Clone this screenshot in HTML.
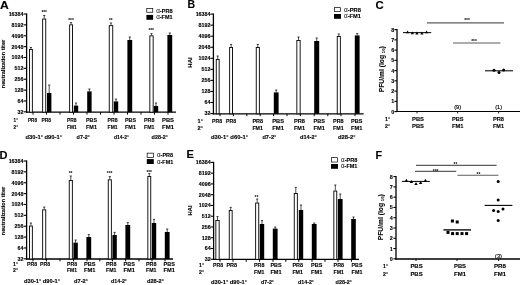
<!DOCTYPE html>
<html lang="en">
<head>
<meta charset="utf-8">
<title>Figure</title>
<style>
html,body{margin:0;padding:0;background:#fff;}
body{width:520px;height:285px;overflow:hidden;}
svg{display:block;font-family:"Liberation Sans", sans-serif;}
</style>
</head>
<body>
<svg width="520" height="285" viewBox="0 0 520 285">
<defs><filter id="soft" x="0" y="0" width="520" height="285" filterUnits="userSpaceOnUse"><feGaussianBlur stdDeviation="0.45"/></filter></defs>
<rect width="520" height="285" fill="#fff"/>
<g filter="url(#soft)">
<rect width="520" height="285" fill="#fff"/>
<text x="0.00" y="8.80" font-size="10.0" text-anchor="start" font-weight="bold" fill="#000" stroke="#000" stroke-width="0.12" textLength="8.80" lengthAdjust="spacingAndGlyphs">A</text>
<line x1="26.60" y1="13.40" x2="26.60" y2="112.80" stroke="#000" stroke-width="1.3"/>
<line x1="23.60" y1="14.00" x2="26.60" y2="14.00" stroke="#000" stroke-width="1.1"/>
<text x="23.40" y="15.91" font-size="5.3" text-anchor="end" font-weight="bold" fill="#000" stroke="#000" stroke-width="0.12">16384</text>
<line x1="23.60" y1="24.87" x2="26.60" y2="24.87" stroke="#000" stroke-width="1.1"/>
<text x="23.40" y="26.78" font-size="5.3" text-anchor="end" font-weight="bold" fill="#000" stroke="#000" stroke-width="0.12">8192</text>
<line x1="23.60" y1="35.74" x2="26.60" y2="35.74" stroke="#000" stroke-width="1.1"/>
<text x="23.40" y="37.65" font-size="5.3" text-anchor="end" font-weight="bold" fill="#000" stroke="#000" stroke-width="0.12">4096</text>
<line x1="23.60" y1="46.61" x2="26.60" y2="46.61" stroke="#000" stroke-width="1.1"/>
<text x="23.40" y="48.52" font-size="5.3" text-anchor="end" font-weight="bold" fill="#000" stroke="#000" stroke-width="0.12">2048</text>
<line x1="23.60" y1="57.48" x2="26.60" y2="57.48" stroke="#000" stroke-width="1.1"/>
<text x="23.40" y="59.39" font-size="5.3" text-anchor="end" font-weight="bold" fill="#000" stroke="#000" stroke-width="0.12">1024</text>
<line x1="23.60" y1="68.35" x2="26.60" y2="68.35" stroke="#000" stroke-width="1.1"/>
<text x="23.40" y="70.26" font-size="5.3" text-anchor="end" font-weight="bold" fill="#000" stroke="#000" stroke-width="0.12">512</text>
<line x1="23.60" y1="79.22" x2="26.60" y2="79.22" stroke="#000" stroke-width="1.1"/>
<text x="23.40" y="81.13" font-size="5.3" text-anchor="end" font-weight="bold" fill="#000" stroke="#000" stroke-width="0.12">256</text>
<line x1="23.60" y1="90.09" x2="26.60" y2="90.09" stroke="#000" stroke-width="1.1"/>
<text x="23.40" y="92.00" font-size="5.3" text-anchor="end" font-weight="bold" fill="#000" stroke="#000" stroke-width="0.12">128</text>
<line x1="23.60" y1="100.96" x2="26.60" y2="100.96" stroke="#000" stroke-width="1.1"/>
<text x="23.40" y="102.87" font-size="5.3" text-anchor="end" font-weight="bold" fill="#000" stroke="#000" stroke-width="0.12">64</text>
<line x1="23.60" y1="111.83" x2="26.60" y2="111.83" stroke="#000" stroke-width="1.1"/>
<text x="23.40" y="113.74" font-size="5.3" text-anchor="end" font-weight="bold" fill="#000" stroke="#000" stroke-width="0.12">32</text>
<line x1="26.00" y1="112.20" x2="176.00" y2="112.20" stroke="#000" stroke-width="1.3"/>
<line x1="33.00" y1="112.20" x2="33.00" y2="114.60" stroke="#000" stroke-width="1.0"/>
<line x1="46.50" y1="112.20" x2="46.50" y2="114.60" stroke="#000" stroke-width="1.0"/>
<line x1="60.00" y1="112.20" x2="60.00" y2="114.60" stroke="#000" stroke-width="1.0"/>
<line x1="73.50" y1="112.20" x2="73.50" y2="114.60" stroke="#000" stroke-width="1.0"/>
<line x1="87.00" y1="112.20" x2="87.00" y2="114.60" stroke="#000" stroke-width="1.0"/>
<line x1="100.50" y1="112.20" x2="100.50" y2="114.60" stroke="#000" stroke-width="1.0"/>
<line x1="114.00" y1="112.20" x2="114.00" y2="114.60" stroke="#000" stroke-width="1.0"/>
<line x1="127.50" y1="112.20" x2="127.50" y2="114.60" stroke="#000" stroke-width="1.0"/>
<line x1="141.00" y1="112.20" x2="141.00" y2="114.60" stroke="#000" stroke-width="1.0"/>
<line x1="154.50" y1="112.20" x2="154.50" y2="114.60" stroke="#000" stroke-width="1.0"/>
<line x1="168.00" y1="112.20" x2="168.00" y2="114.60" stroke="#000" stroke-width="1.0"/>
<text transform="translate(4.92 64.00) rotate(-90)" font-size="5.6" text-anchor="middle" font-weight="bold" stroke="#000" stroke-width="0.12" textLength="48.50" lengthAdjust="spacingAndGlyphs">neutralization titer</text>
<line x1="30.90" y1="47.50" x2="30.90" y2="49.00" stroke="#000" stroke-width="0.7"/>
<line x1="29.80" y1="47.50" x2="32.00" y2="47.50" stroke="#000" stroke-width="0.7"/>
<rect x="29.45" y="49.45" width="2.90" height="62.75" fill="#fff" stroke="#000" stroke-width="0.9"/>
<line x1="44.20" y1="15.50" x2="44.20" y2="18.60" stroke="#000" stroke-width="0.7"/>
<line x1="43.10" y1="15.50" x2="45.30" y2="15.50" stroke="#000" stroke-width="0.7"/>
<rect x="42.65" y="19.05" width="3.10" height="93.15" fill="#fff" stroke="#000" stroke-width="0.9"/>
<text x="44.20" y="14.23" font-size="4.8" text-anchor="middle" font-weight="bold" fill="#000" stroke="#000" stroke-width="0">***</text>
<line x1="49.20" y1="85.00" x2="49.20" y2="93.00" stroke="#000" stroke-width="0.7"/>
<line x1="48.10" y1="85.00" x2="50.30" y2="85.00" stroke="#000" stroke-width="0.7"/>
<rect x="47.00" y="93.00" width="4.40" height="19.20" fill="#000"/>
<line x1="71.10" y1="22.60" x2="71.10" y2="24.40" stroke="#000" stroke-width="0.7"/>
<line x1="70.00" y1="22.60" x2="72.20" y2="22.60" stroke="#000" stroke-width="0.7"/>
<rect x="69.65" y="24.85" width="2.90" height="87.35" fill="#fff" stroke="#000" stroke-width="0.9"/>
<text x="71.00" y="22.43" font-size="4.8" text-anchor="middle" font-weight="bold" fill="#000" stroke="#000" stroke-width="0">***</text>
<line x1="76.00" y1="103.00" x2="76.00" y2="105.60" stroke="#000" stroke-width="0.7"/>
<line x1="74.90" y1="103.00" x2="77.10" y2="103.00" stroke="#000" stroke-width="0.7"/>
<rect x="73.80" y="105.60" width="4.40" height="6.60" fill="#000"/>
<line x1="89.40" y1="89.00" x2="89.40" y2="91.40" stroke="#000" stroke-width="0.7"/>
<line x1="88.30" y1="89.00" x2="90.50" y2="89.00" stroke="#000" stroke-width="0.7"/>
<rect x="87.20" y="91.40" width="4.40" height="20.80" fill="#000"/>
<line x1="111.00" y1="23.00" x2="111.00" y2="25.20" stroke="#000" stroke-width="0.7"/>
<line x1="109.90" y1="23.00" x2="112.10" y2="23.00" stroke="#000" stroke-width="0.7"/>
<rect x="109.25" y="25.65" width="3.50" height="86.55" fill="#fff" stroke="#000" stroke-width="0.9"/>
<text x="110.80" y="22.23" font-size="4.8" text-anchor="middle" font-weight="bold" fill="#000" stroke="#000" stroke-width="0">**</text>
<line x1="116.00" y1="99.00" x2="116.00" y2="101.40" stroke="#000" stroke-width="0.7"/>
<line x1="114.90" y1="99.00" x2="117.10" y2="99.00" stroke="#000" stroke-width="0.7"/>
<rect x="113.80" y="101.40" width="4.40" height="10.80" fill="#000"/>
<line x1="129.80" y1="37.00" x2="129.80" y2="40.00" stroke="#000" stroke-width="0.7"/>
<line x1="128.70" y1="37.00" x2="130.90" y2="37.00" stroke="#000" stroke-width="0.7"/>
<rect x="127.40" y="40.00" width="4.80" height="72.20" fill="#000"/>
<line x1="151.50" y1="33.60" x2="151.50" y2="35.40" stroke="#000" stroke-width="0.7"/>
<line x1="150.40" y1="33.60" x2="152.60" y2="33.60" stroke="#000" stroke-width="0.7"/>
<rect x="149.85" y="35.85" width="3.30" height="76.35" fill="#fff" stroke="#000" stroke-width="0.9"/>
<text x="151.20" y="31.63" font-size="4.8" text-anchor="middle" font-weight="bold" fill="#000" stroke="#000" stroke-width="0">***</text>
<line x1="156.00" y1="103.00" x2="156.00" y2="106.00" stroke="#000" stroke-width="0.7"/>
<line x1="154.90" y1="103.00" x2="157.10" y2="103.00" stroke="#000" stroke-width="0.7"/>
<rect x="153.80" y="106.00" width="4.40" height="6.20" fill="#000"/>
<line x1="169.80" y1="33.00" x2="169.80" y2="35.00" stroke="#000" stroke-width="0.7"/>
<line x1="168.70" y1="33.00" x2="170.90" y2="33.00" stroke="#000" stroke-width="0.7"/>
<rect x="167.40" y="35.00" width="4.80" height="77.20" fill="#000"/>
<rect x="146.75" y="8.55" width="6.00" height="3.70" fill="#fff" stroke="#000" stroke-width="0.7"/>
<rect x="146.40" y="14.90" width="6.70" height="4.90" fill="#000"/>
<text x="156.20" y="12.55" font-size="5.7" text-anchor="start" font-weight="bold" fill="#000" stroke="#000" stroke-width="0.12" textLength="16.40" lengthAdjust="spacingAndGlyphs"><tspan font-weight="normal" stroke-width="0" font-size="6.4">α</tspan>-PR8</text>
<text x="156.20" y="19.05" font-size="5.7" text-anchor="start" font-weight="bold" fill="#000" stroke="#000" stroke-width="0.12" textLength="16.40" lengthAdjust="spacingAndGlyphs"><tspan font-weight="normal" stroke-width="0" font-size="6.4">α</tspan>-FM1</text>
<text x="13.60" y="121.69" font-size="5.8" text-anchor="start" font-weight="bold" fill="#000" stroke="#000" stroke-width="0.12" textLength="4.40" lengthAdjust="spacingAndGlyphs">1°</text>
<text x="13.60" y="128.89" font-size="5.8" text-anchor="start" font-weight="bold" fill="#000" stroke="#000" stroke-width="0.12" textLength="4.40" lengthAdjust="spacingAndGlyphs">2°</text>
<text x="28.00" y="121.69" font-size="5.8" text-anchor="start" font-weight="bold" fill="#000" stroke="#000" stroke-width="0.12" textLength="9.00" lengthAdjust="spacingAndGlyphs">PR8</text>
<text x="41.40" y="121.69" font-size="5.8" text-anchor="start" font-weight="bold" fill="#000" stroke="#000" stroke-width="0.12" textLength="9.60" lengthAdjust="spacingAndGlyphs">PR8</text>
<text x="67.00" y="121.69" font-size="5.8" text-anchor="start" font-weight="bold" fill="#000" stroke="#000" stroke-width="0.12" textLength="9.60" lengthAdjust="spacingAndGlyphs">PR8</text>
<text x="67.00" y="128.89" font-size="5.8" text-anchor="start" font-weight="bold" fill="#000" stroke="#000" stroke-width="0.12" textLength="9.60" lengthAdjust="spacingAndGlyphs">FM1</text>
<text x="86.00" y="121.69" font-size="5.8" text-anchor="start" font-weight="bold" fill="#000" stroke="#000" stroke-width="0.12" textLength="11.00" lengthAdjust="spacingAndGlyphs">PBS</text>
<text x="86.00" y="128.89" font-size="5.8" text-anchor="start" font-weight="bold" fill="#000" stroke="#000" stroke-width="0.12" textLength="11.00" lengthAdjust="spacingAndGlyphs">FM1</text>
<text x="107.60" y="121.69" font-size="5.8" text-anchor="start" font-weight="bold" fill="#000" stroke="#000" stroke-width="0.12" textLength="10.00" lengthAdjust="spacingAndGlyphs">PR8</text>
<text x="107.60" y="128.89" font-size="5.8" text-anchor="start" font-weight="bold" fill="#000" stroke="#000" stroke-width="0.12" textLength="10.00" lengthAdjust="spacingAndGlyphs">FM1</text>
<text x="125.00" y="121.69" font-size="5.8" text-anchor="start" font-weight="bold" fill="#000" stroke="#000" stroke-width="0.12" textLength="11.00" lengthAdjust="spacingAndGlyphs">PBS</text>
<text x="125.00" y="128.89" font-size="5.8" text-anchor="start" font-weight="bold" fill="#000" stroke="#000" stroke-width="0.12" textLength="11.00" lengthAdjust="spacingAndGlyphs">FM1</text>
<text x="144.00" y="121.69" font-size="5.8" text-anchor="start" font-weight="bold" fill="#000" stroke="#000" stroke-width="0.12" textLength="10.40" lengthAdjust="spacingAndGlyphs">PR8</text>
<text x="144.00" y="128.89" font-size="5.8" text-anchor="start" font-weight="bold" fill="#000" stroke="#000" stroke-width="0.12" textLength="10.40" lengthAdjust="spacingAndGlyphs">FM1</text>
<text x="162.00" y="121.69" font-size="5.8" text-anchor="start" font-weight="bold" fill="#000" stroke="#000" stroke-width="0.12" textLength="12.00" lengthAdjust="spacingAndGlyphs">PBS</text>
<text x="162.00" y="128.89" font-size="5.8" text-anchor="start" font-weight="bold" fill="#000" stroke="#000" stroke-width="0.12" textLength="12.00" lengthAdjust="spacingAndGlyphs">FM1</text>
<text x="25.60" y="139.09" font-size="5.8" text-anchor="start" font-weight="bold" fill="#000" stroke="#000" stroke-width="0.12" textLength="36.40" lengthAdjust="spacingAndGlyphs">d30-1° d90-1°</text>
<text x="76.60" y="139.09" font-size="5.8" text-anchor="start" font-weight="bold" fill="#000" stroke="#000" stroke-width="0.12" textLength="13.40" lengthAdjust="spacingAndGlyphs">d7-2°</text>
<text x="114.00" y="139.09" font-size="5.8" text-anchor="start" font-weight="bold" fill="#000" stroke="#000" stroke-width="0.12" textLength="15.00" lengthAdjust="spacingAndGlyphs">d14-2°</text>
<text x="151.60" y="139.09" font-size="5.8" text-anchor="start" font-weight="bold" fill="#000" stroke="#000" stroke-width="0.12" textLength="16.40" lengthAdjust="spacingAndGlyphs">d28-2°</text>
<text x="187.60" y="8.30" font-size="10.0" text-anchor="start" font-weight="bold" fill="#000" stroke="#000" stroke-width="0.12" textLength="7.60" lengthAdjust="spacingAndGlyphs">B</text>
<line x1="213.40" y1="13.50" x2="213.40" y2="114.40" stroke="#000" stroke-width="1.3"/>
<line x1="210.40" y1="14.10" x2="213.40" y2="14.10" stroke="#000" stroke-width="1.1"/>
<text x="210.40" y="16.01" font-size="5.3" text-anchor="end" font-weight="bold" fill="#000" stroke="#000" stroke-width="0.12">16384</text>
<line x1="210.40" y1="25.15" x2="213.40" y2="25.15" stroke="#000" stroke-width="1.1"/>
<text x="210.40" y="27.06" font-size="5.3" text-anchor="end" font-weight="bold" fill="#000" stroke="#000" stroke-width="0.12">8192</text>
<line x1="210.40" y1="36.20" x2="213.40" y2="36.20" stroke="#000" stroke-width="1.1"/>
<text x="210.40" y="38.11" font-size="5.3" text-anchor="end" font-weight="bold" fill="#000" stroke="#000" stroke-width="0.12">4096</text>
<line x1="210.40" y1="47.25" x2="213.40" y2="47.25" stroke="#000" stroke-width="1.1"/>
<text x="210.40" y="49.16" font-size="5.3" text-anchor="end" font-weight="bold" fill="#000" stroke="#000" stroke-width="0.12">2048</text>
<line x1="210.40" y1="58.30" x2="213.40" y2="58.30" stroke="#000" stroke-width="1.1"/>
<text x="210.40" y="60.21" font-size="5.3" text-anchor="end" font-weight="bold" fill="#000" stroke="#000" stroke-width="0.12">1024</text>
<line x1="210.40" y1="69.35" x2="213.40" y2="69.35" stroke="#000" stroke-width="1.1"/>
<text x="210.40" y="71.26" font-size="5.3" text-anchor="end" font-weight="bold" fill="#000" stroke="#000" stroke-width="0.12">512</text>
<line x1="210.40" y1="80.40" x2="213.40" y2="80.40" stroke="#000" stroke-width="1.1"/>
<text x="210.40" y="82.31" font-size="5.3" text-anchor="end" font-weight="bold" fill="#000" stroke="#000" stroke-width="0.12">256</text>
<line x1="210.40" y1="91.45" x2="213.40" y2="91.45" stroke="#000" stroke-width="1.1"/>
<text x="210.40" y="93.36" font-size="5.3" text-anchor="end" font-weight="bold" fill="#000" stroke="#000" stroke-width="0.12">128</text>
<line x1="210.40" y1="102.50" x2="213.40" y2="102.50" stroke="#000" stroke-width="1.1"/>
<text x="210.40" y="104.41" font-size="5.3" text-anchor="end" font-weight="bold" fill="#000" stroke="#000" stroke-width="0.12">64</text>
<line x1="210.40" y1="113.55" x2="213.40" y2="113.55" stroke="#000" stroke-width="1.1"/>
<text x="210.40" y="115.46" font-size="5.3" text-anchor="end" font-weight="bold" fill="#000" stroke="#000" stroke-width="0.12">32</text>
<line x1="212.80" y1="113.80" x2="363.60" y2="113.80" stroke="#000" stroke-width="1.3"/>
<line x1="220.00" y1="113.80" x2="220.00" y2="116.20" stroke="#000" stroke-width="1.0"/>
<line x1="233.40" y1="113.80" x2="233.40" y2="116.20" stroke="#000" stroke-width="1.0"/>
<line x1="246.80" y1="113.80" x2="246.80" y2="116.20" stroke="#000" stroke-width="1.0"/>
<line x1="260.20" y1="113.80" x2="260.20" y2="116.20" stroke="#000" stroke-width="1.0"/>
<line x1="273.60" y1="113.80" x2="273.60" y2="116.20" stroke="#000" stroke-width="1.0"/>
<line x1="287.00" y1="113.80" x2="287.00" y2="116.20" stroke="#000" stroke-width="1.0"/>
<line x1="300.40" y1="113.80" x2="300.40" y2="116.20" stroke="#000" stroke-width="1.0"/>
<line x1="314.20" y1="113.80" x2="314.20" y2="116.20" stroke="#000" stroke-width="1.0"/>
<line x1="327.80" y1="113.80" x2="327.80" y2="116.20" stroke="#000" stroke-width="1.0"/>
<line x1="341.00" y1="113.80" x2="341.00" y2="116.20" stroke="#000" stroke-width="1.0"/>
<line x1="355.00" y1="113.80" x2="355.00" y2="116.20" stroke="#000" stroke-width="1.0"/>
<text transform="translate(192.42 62.50) rotate(-90)" font-size="5.6" text-anchor="middle" font-weight="bold" stroke="#000" stroke-width="0.12" textLength="10.50" lengthAdjust="spacingAndGlyphs">HAI</text>
<line x1="217.70" y1="56.00" x2="217.70" y2="59.00" stroke="#000" stroke-width="0.7"/>
<line x1="216.60" y1="56.00" x2="218.80" y2="56.00" stroke="#000" stroke-width="0.7"/>
<rect x="216.25" y="59.45" width="2.90" height="54.35" fill="#fff" stroke="#000" stroke-width="0.9"/>
<line x1="231.10" y1="44.40" x2="231.10" y2="47.00" stroke="#000" stroke-width="0.7"/>
<line x1="230.00" y1="44.40" x2="232.20" y2="44.40" stroke="#000" stroke-width="0.7"/>
<rect x="229.65" y="47.45" width="2.90" height="66.35" fill="#fff" stroke="#000" stroke-width="0.9"/>
<line x1="257.80" y1="44.40" x2="257.80" y2="47.00" stroke="#000" stroke-width="0.7"/>
<line x1="256.70" y1="44.40" x2="258.90" y2="44.40" stroke="#000" stroke-width="0.7"/>
<rect x="256.25" y="47.45" width="3.10" height="66.35" fill="#fff" stroke="#000" stroke-width="0.9"/>
<line x1="276.20" y1="90.00" x2="276.20" y2="92.40" stroke="#000" stroke-width="0.7"/>
<line x1="275.10" y1="90.00" x2="277.30" y2="90.00" stroke="#000" stroke-width="0.7"/>
<rect x="273.80" y="92.40" width="4.80" height="21.40" fill="#000"/>
<line x1="298.50" y1="37.00" x2="298.50" y2="40.00" stroke="#000" stroke-width="0.7"/>
<line x1="297.40" y1="37.00" x2="299.60" y2="37.00" stroke="#000" stroke-width="0.7"/>
<rect x="296.85" y="40.45" width="3.30" height="73.35" fill="#fff" stroke="#000" stroke-width="0.9"/>
<line x1="316.70" y1="38.00" x2="316.70" y2="41.00" stroke="#000" stroke-width="0.7"/>
<line x1="315.60" y1="38.00" x2="317.80" y2="38.00" stroke="#000" stroke-width="0.7"/>
<rect x="314.20" y="41.00" width="5.00" height="72.80" fill="#000"/>
<line x1="338.80" y1="34.00" x2="338.80" y2="36.00" stroke="#000" stroke-width="0.7"/>
<line x1="337.70" y1="34.00" x2="339.90" y2="34.00" stroke="#000" stroke-width="0.7"/>
<rect x="337.25" y="36.45" width="3.10" height="77.35" fill="#fff" stroke="#000" stroke-width="0.9"/>
<line x1="357.20" y1="33.60" x2="357.20" y2="35.40" stroke="#000" stroke-width="0.7"/>
<line x1="356.10" y1="33.60" x2="358.30" y2="33.60" stroke="#000" stroke-width="0.7"/>
<rect x="354.80" y="35.40" width="4.80" height="78.40" fill="#000"/>
<rect x="334.35" y="7.65" width="6.30" height="3.90" fill="#fff" stroke="#000" stroke-width="0.7"/>
<rect x="334.00" y="14.00" width="7.00" height="4.80" fill="#000"/>
<text x="344.00" y="11.65" font-size="5.7" text-anchor="start" font-weight="bold" fill="#000" stroke="#000" stroke-width="0.12" textLength="17.00" lengthAdjust="spacingAndGlyphs"><tspan font-weight="normal" stroke-width="0" font-size="6.4">α</tspan>-PR8</text>
<text x="344.00" y="18.05" font-size="5.7" text-anchor="start" font-weight="bold" fill="#000" stroke="#000" stroke-width="0.12" textLength="17.00" lengthAdjust="spacingAndGlyphs"><tspan font-weight="normal" stroke-width="0" font-size="6.4">α</tspan>-FM1</text>
<text x="197.60" y="122.59" font-size="5.8" text-anchor="start" font-weight="bold" fill="#000" stroke="#000" stroke-width="0.12" textLength="5.40" lengthAdjust="spacingAndGlyphs">1°</text>
<text x="197.60" y="129.89" font-size="5.8" text-anchor="start" font-weight="bold" fill="#000" stroke="#000" stroke-width="0.12" textLength="5.40" lengthAdjust="spacingAndGlyphs">2°</text>
<text x="212.00" y="122.59" font-size="5.8" text-anchor="start" font-weight="bold" fill="#000" stroke="#000" stroke-width="0.12" textLength="10.00" lengthAdjust="spacingAndGlyphs">PR8</text>
<text x="226.00" y="122.59" font-size="5.8" text-anchor="start" font-weight="bold" fill="#000" stroke="#000" stroke-width="0.12" textLength="10.00" lengthAdjust="spacingAndGlyphs">PR8</text>
<text x="252.40" y="122.59" font-size="5.8" text-anchor="start" font-weight="bold" fill="#000" stroke="#000" stroke-width="0.12" textLength="10.60" lengthAdjust="spacingAndGlyphs">PR8</text>
<text x="252.40" y="129.89" font-size="5.8" text-anchor="start" font-weight="bold" fill="#000" stroke="#000" stroke-width="0.12" textLength="10.60" lengthAdjust="spacingAndGlyphs">FM1</text>
<text x="272.20" y="122.59" font-size="5.8" text-anchor="start" font-weight="bold" fill="#000" stroke="#000" stroke-width="0.12" textLength="11.80" lengthAdjust="spacingAndGlyphs">PBS</text>
<text x="272.20" y="129.89" font-size="5.8" text-anchor="start" font-weight="bold" fill="#000" stroke="#000" stroke-width="0.12" textLength="11.80" lengthAdjust="spacingAndGlyphs">FM1</text>
<text x="294.00" y="122.59" font-size="5.8" text-anchor="start" font-weight="bold" fill="#000" stroke="#000" stroke-width="0.12" textLength="11.00" lengthAdjust="spacingAndGlyphs">PR8</text>
<text x="294.00" y="129.89" font-size="5.8" text-anchor="start" font-weight="bold" fill="#000" stroke="#000" stroke-width="0.12" textLength="11.00" lengthAdjust="spacingAndGlyphs">FM1</text>
<text x="313.60" y="122.59" font-size="5.8" text-anchor="start" font-weight="bold" fill="#000" stroke="#000" stroke-width="0.12" textLength="11.40" lengthAdjust="spacingAndGlyphs">PBS</text>
<text x="313.60" y="129.89" font-size="5.8" text-anchor="start" font-weight="bold" fill="#000" stroke="#000" stroke-width="0.12" textLength="11.40" lengthAdjust="spacingAndGlyphs">FM1</text>
<text x="333.00" y="122.59" font-size="5.8" text-anchor="start" font-weight="bold" fill="#000" stroke="#000" stroke-width="0.12" textLength="10.60" lengthAdjust="spacingAndGlyphs">PR8</text>
<text x="333.00" y="129.89" font-size="5.8" text-anchor="start" font-weight="bold" fill="#000" stroke="#000" stroke-width="0.12" textLength="10.60" lengthAdjust="spacingAndGlyphs">FM1</text>
<text x="351.00" y="122.59" font-size="5.8" text-anchor="start" font-weight="bold" fill="#000" stroke="#000" stroke-width="0.12" textLength="11.40" lengthAdjust="spacingAndGlyphs">PBS</text>
<text x="351.00" y="129.89" font-size="5.8" text-anchor="start" font-weight="bold" fill="#000" stroke="#000" stroke-width="0.12" textLength="11.40" lengthAdjust="spacingAndGlyphs">FM1</text>
<text x="211.00" y="139.49" font-size="5.8" text-anchor="start" font-weight="bold" fill="#000" stroke="#000" stroke-width="0.12" textLength="37.00" lengthAdjust="spacingAndGlyphs">d30-1° d60-1°</text>
<text x="262.40" y="139.49" font-size="5.8" text-anchor="start" font-weight="bold" fill="#000" stroke="#000" stroke-width="0.12" textLength="14.00" lengthAdjust="spacingAndGlyphs">d7-2°</text>
<text x="300.00" y="139.49" font-size="5.8" text-anchor="start" font-weight="bold" fill="#000" stroke="#000" stroke-width="0.12" textLength="17.00" lengthAdjust="spacingAndGlyphs">d14-2°</text>
<text x="338.00" y="139.49" font-size="5.8" text-anchor="start" font-weight="bold" fill="#000" stroke="#000" stroke-width="0.12" textLength="17.60" lengthAdjust="spacingAndGlyphs">d28-2°</text>
<text x="-0.50" y="158.60" font-size="10.0" text-anchor="start" font-weight="bold" fill="#000" stroke="#000" stroke-width="0.12" textLength="8.00" lengthAdjust="spacingAndGlyphs">D</text>
<line x1="26.60" y1="160.40" x2="26.60" y2="259.60" stroke="#000" stroke-width="1.3"/>
<line x1="23.60" y1="161.00" x2="26.60" y2="161.00" stroke="#000" stroke-width="1.1"/>
<text x="23.40" y="162.91" font-size="5.3" text-anchor="end" font-weight="bold" fill="#000" stroke="#000" stroke-width="0.12">16384</text>
<line x1="23.60" y1="171.87" x2="26.60" y2="171.87" stroke="#000" stroke-width="1.1"/>
<text x="23.40" y="173.78" font-size="5.3" text-anchor="end" font-weight="bold" fill="#000" stroke="#000" stroke-width="0.12">8192</text>
<line x1="23.60" y1="182.74" x2="26.60" y2="182.74" stroke="#000" stroke-width="1.1"/>
<text x="23.40" y="184.65" font-size="5.3" text-anchor="end" font-weight="bold" fill="#000" stroke="#000" stroke-width="0.12">4096</text>
<line x1="23.60" y1="193.61" x2="26.60" y2="193.61" stroke="#000" stroke-width="1.1"/>
<text x="23.40" y="195.52" font-size="5.3" text-anchor="end" font-weight="bold" fill="#000" stroke="#000" stroke-width="0.12">2048</text>
<line x1="23.60" y1="204.48" x2="26.60" y2="204.48" stroke="#000" stroke-width="1.1"/>
<text x="23.40" y="206.39" font-size="5.3" text-anchor="end" font-weight="bold" fill="#000" stroke="#000" stroke-width="0.12">1024</text>
<line x1="23.60" y1="215.35" x2="26.60" y2="215.35" stroke="#000" stroke-width="1.1"/>
<text x="23.40" y="217.26" font-size="5.3" text-anchor="end" font-weight="bold" fill="#000" stroke="#000" stroke-width="0.12">512</text>
<line x1="23.60" y1="226.22" x2="26.60" y2="226.22" stroke="#000" stroke-width="1.1"/>
<text x="23.40" y="228.13" font-size="5.3" text-anchor="end" font-weight="bold" fill="#000" stroke="#000" stroke-width="0.12">256</text>
<line x1="23.60" y1="237.09" x2="26.60" y2="237.09" stroke="#000" stroke-width="1.1"/>
<text x="23.40" y="239.00" font-size="5.3" text-anchor="end" font-weight="bold" fill="#000" stroke="#000" stroke-width="0.12">128</text>
<line x1="23.60" y1="247.96" x2="26.60" y2="247.96" stroke="#000" stroke-width="1.1"/>
<text x="23.40" y="249.87" font-size="5.3" text-anchor="end" font-weight="bold" fill="#000" stroke="#000" stroke-width="0.12">64</text>
<line x1="23.60" y1="258.83" x2="26.60" y2="258.83" stroke="#000" stroke-width="1.1"/>
<text x="23.40" y="260.74" font-size="5.3" text-anchor="end" font-weight="bold" fill="#000" stroke="#000" stroke-width="0.12">32</text>
<line x1="26.00" y1="259.00" x2="173.00" y2="259.00" stroke="#000" stroke-width="1.3"/>
<line x1="33.00" y1="259.00" x2="33.00" y2="261.40" stroke="#000" stroke-width="1.0"/>
<line x1="46.40" y1="259.00" x2="46.40" y2="261.40" stroke="#000" stroke-width="1.0"/>
<line x1="60.00" y1="259.00" x2="60.00" y2="261.40" stroke="#000" stroke-width="1.0"/>
<line x1="73.60" y1="259.00" x2="73.60" y2="261.40" stroke="#000" stroke-width="1.0"/>
<line x1="87.00" y1="259.00" x2="87.00" y2="261.40" stroke="#000" stroke-width="1.0"/>
<line x1="99.80" y1="259.00" x2="99.80" y2="261.40" stroke="#000" stroke-width="1.0"/>
<line x1="112.40" y1="259.00" x2="112.40" y2="261.40" stroke="#000" stroke-width="1.0"/>
<line x1="125.60" y1="259.00" x2="125.60" y2="261.40" stroke="#000" stroke-width="1.0"/>
<line x1="139.00" y1="259.00" x2="139.00" y2="261.40" stroke="#000" stroke-width="1.0"/>
<line x1="152.00" y1="259.00" x2="152.00" y2="261.40" stroke="#000" stroke-width="1.0"/>
<line x1="165.00" y1="259.00" x2="165.00" y2="261.40" stroke="#000" stroke-width="1.0"/>
<text transform="translate(4.92 211.00) rotate(-90)" font-size="5.6" text-anchor="middle" font-weight="bold" stroke="#000" stroke-width="0.12" textLength="48.50" lengthAdjust="spacingAndGlyphs">neutralization titer</text>
<line x1="30.90" y1="223.00" x2="30.90" y2="225.60" stroke="#000" stroke-width="0.7"/>
<line x1="29.80" y1="223.00" x2="32.00" y2="223.00" stroke="#000" stroke-width="0.7"/>
<rect x="29.45" y="226.05" width="2.90" height="32.95" fill="#fff" stroke="#000" stroke-width="0.9"/>
<line x1="44.20" y1="207.00" x2="44.20" y2="209.40" stroke="#000" stroke-width="0.7"/>
<line x1="43.10" y1="207.00" x2="45.30" y2="207.00" stroke="#000" stroke-width="0.7"/>
<rect x="42.65" y="209.85" width="3.10" height="49.15" fill="#fff" stroke="#000" stroke-width="0.9"/>
<line x1="70.80" y1="176.00" x2="70.80" y2="180.00" stroke="#000" stroke-width="0.7"/>
<line x1="69.70" y1="176.00" x2="71.90" y2="176.00" stroke="#000" stroke-width="0.7"/>
<rect x="69.25" y="180.45" width="3.10" height="78.55" fill="#fff" stroke="#000" stroke-width="0.9"/>
<text x="70.60" y="175.03" font-size="4.8" text-anchor="middle" font-weight="bold" fill="#000" stroke="#000" stroke-width="0">**</text>
<line x1="75.60" y1="240.00" x2="75.60" y2="242.60" stroke="#000" stroke-width="0.7"/>
<line x1="74.50" y1="240.00" x2="76.70" y2="240.00" stroke="#000" stroke-width="0.7"/>
<rect x="73.40" y="242.60" width="4.40" height="16.40" fill="#000"/>
<line x1="88.80" y1="234.60" x2="88.80" y2="237.00" stroke="#000" stroke-width="0.7"/>
<line x1="87.70" y1="234.60" x2="89.90" y2="234.60" stroke="#000" stroke-width="0.7"/>
<rect x="86.40" y="237.00" width="4.80" height="22.00" fill="#000"/>
<line x1="109.80" y1="176.60" x2="109.80" y2="179.40" stroke="#000" stroke-width="0.7"/>
<line x1="108.70" y1="176.60" x2="110.90" y2="176.60" stroke="#000" stroke-width="0.7"/>
<rect x="108.25" y="179.85" width="3.10" height="79.15" fill="#fff" stroke="#000" stroke-width="0.9"/>
<text x="109.60" y="175.03" font-size="4.8" text-anchor="middle" font-weight="bold" fill="#000" stroke="#000" stroke-width="0">***</text>
<line x1="114.60" y1="232.40" x2="114.60" y2="235.00" stroke="#000" stroke-width="0.7"/>
<line x1="113.50" y1="232.40" x2="115.70" y2="232.40" stroke="#000" stroke-width="0.7"/>
<rect x="112.40" y="235.00" width="4.40" height="24.00" fill="#000"/>
<line x1="127.80" y1="222.60" x2="127.80" y2="225.00" stroke="#000" stroke-width="0.7"/>
<line x1="126.70" y1="222.60" x2="128.90" y2="222.60" stroke="#000" stroke-width="0.7"/>
<rect x="125.40" y="225.00" width="4.80" height="34.00" fill="#000"/>
<line x1="149.30" y1="173.60" x2="149.30" y2="176.00" stroke="#000" stroke-width="0.7"/>
<line x1="148.20" y1="173.60" x2="150.40" y2="173.60" stroke="#000" stroke-width="0.7"/>
<rect x="147.85" y="176.45" width="2.90" height="82.55" fill="#fff" stroke="#000" stroke-width="0.9"/>
<text x="149.20" y="174.43" font-size="4.8" text-anchor="middle" font-weight="bold" fill="#000" stroke="#000" stroke-width="0">***</text>
<line x1="154.00" y1="219.40" x2="154.00" y2="223.00" stroke="#000" stroke-width="0.7"/>
<line x1="152.90" y1="219.40" x2="155.10" y2="219.40" stroke="#000" stroke-width="0.7"/>
<rect x="151.80" y="223.00" width="4.40" height="36.00" fill="#000"/>
<line x1="167.20" y1="229.00" x2="167.20" y2="232.00" stroke="#000" stroke-width="0.7"/>
<line x1="166.10" y1="229.00" x2="168.30" y2="229.00" stroke="#000" stroke-width="0.7"/>
<rect x="164.80" y="232.00" width="4.80" height="27.00" fill="#000"/>
<rect x="147.15" y="153.15" width="6.30" height="4.20" fill="#fff" stroke="#000" stroke-width="0.7"/>
<rect x="146.80" y="159.10" width="7.00" height="4.90" fill="#000"/>
<text x="157.00" y="157.15" font-size="5.7" text-anchor="start" font-weight="bold" fill="#000" stroke="#000" stroke-width="0.12" textLength="16.20" lengthAdjust="spacingAndGlyphs"><tspan font-weight="normal" stroke-width="0" font-size="6.4">α</tspan>-PR8</text>
<text x="157.00" y="163.55" font-size="5.7" text-anchor="start" font-weight="bold" fill="#000" stroke="#000" stroke-width="0.12" textLength="16.20" lengthAdjust="spacingAndGlyphs"><tspan font-weight="normal" stroke-width="0" font-size="6.4">α</tspan>-FM1</text>
<text x="13.00" y="265.79" font-size="5.8" text-anchor="start" font-weight="bold" fill="#000" stroke="#000" stroke-width="0.12" textLength="5.00" lengthAdjust="spacingAndGlyphs">1°</text>
<text x="13.00" y="272.39" font-size="5.8" text-anchor="start" font-weight="bold" fill="#000" stroke="#000" stroke-width="0.12" textLength="5.00" lengthAdjust="spacingAndGlyphs">2°</text>
<text x="27.00" y="265.79" font-size="5.8" text-anchor="start" font-weight="bold" fill="#000" stroke="#000" stroke-width="0.12" textLength="10.00" lengthAdjust="spacingAndGlyphs">PR8</text>
<text x="40.00" y="265.79" font-size="5.8" text-anchor="start" font-weight="bold" fill="#000" stroke="#000" stroke-width="0.12" textLength="10.00" lengthAdjust="spacingAndGlyphs">PR8</text>
<text x="67.00" y="265.79" font-size="5.8" text-anchor="start" font-weight="bold" fill="#000" stroke="#000" stroke-width="0.12" textLength="10.00" lengthAdjust="spacingAndGlyphs">PR8</text>
<text x="67.00" y="272.39" font-size="5.8" text-anchor="start" font-weight="bold" fill="#000" stroke="#000" stroke-width="0.12" textLength="10.00" lengthAdjust="spacingAndGlyphs">FM1</text>
<text x="84.00" y="265.79" font-size="5.8" text-anchor="start" font-weight="bold" fill="#000" stroke="#000" stroke-width="0.12" textLength="11.60" lengthAdjust="spacingAndGlyphs">PBS</text>
<text x="84.00" y="272.39" font-size="5.8" text-anchor="start" font-weight="bold" fill="#000" stroke="#000" stroke-width="0.12" textLength="11.60" lengthAdjust="spacingAndGlyphs">FM1</text>
<text x="106.00" y="265.79" font-size="5.8" text-anchor="start" font-weight="bold" fill="#000" stroke="#000" stroke-width="0.12" textLength="10.40" lengthAdjust="spacingAndGlyphs">PR8</text>
<text x="106.00" y="272.39" font-size="5.8" text-anchor="start" font-weight="bold" fill="#000" stroke="#000" stroke-width="0.12" textLength="10.40" lengthAdjust="spacingAndGlyphs">FM1</text>
<text x="123.60" y="265.79" font-size="5.8" text-anchor="start" font-weight="bold" fill="#000" stroke="#000" stroke-width="0.12" textLength="11.40" lengthAdjust="spacingAndGlyphs">PBS</text>
<text x="123.60" y="272.39" font-size="5.8" text-anchor="start" font-weight="bold" fill="#000" stroke="#000" stroke-width="0.12" textLength="11.40" lengthAdjust="spacingAndGlyphs">FM1</text>
<text x="146.00" y="265.79" font-size="5.8" text-anchor="start" font-weight="bold" fill="#000" stroke="#000" stroke-width="0.12" textLength="10.40" lengthAdjust="spacingAndGlyphs">PR8</text>
<text x="146.00" y="272.39" font-size="5.8" text-anchor="start" font-weight="bold" fill="#000" stroke="#000" stroke-width="0.12" textLength="10.40" lengthAdjust="spacingAndGlyphs">FM1</text>
<text x="163.60" y="265.79" font-size="5.8" text-anchor="start" font-weight="bold" fill="#000" stroke="#000" stroke-width="0.12" textLength="11.40" lengthAdjust="spacingAndGlyphs">PBS</text>
<text x="163.60" y="272.39" font-size="5.8" text-anchor="start" font-weight="bold" fill="#000" stroke="#000" stroke-width="0.12" textLength="11.40" lengthAdjust="spacingAndGlyphs">FM1</text>
<text x="24.00" y="283.49" font-size="5.8" text-anchor="start" font-weight="bold" fill="#000" stroke="#000" stroke-width="0.12" textLength="36.00" lengthAdjust="spacingAndGlyphs">d30-1° d90-1°</text>
<text x="74.00" y="283.49" font-size="5.8" text-anchor="start" font-weight="bold" fill="#000" stroke="#000" stroke-width="0.12" textLength="14.00" lengthAdjust="spacingAndGlyphs">d7-2°</text>
<text x="111.00" y="283.49" font-size="5.8" text-anchor="start" font-weight="bold" fill="#000" stroke="#000" stroke-width="0.12" textLength="16.00" lengthAdjust="spacingAndGlyphs">d14-2°</text>
<text x="147.00" y="283.49" font-size="5.8" text-anchor="start" font-weight="bold" fill="#000" stroke="#000" stroke-width="0.12" textLength="17.00" lengthAdjust="spacingAndGlyphs">d28-2°</text>
<text x="186.40" y="158.40" font-size="10.0" text-anchor="start" font-weight="bold" fill="#000" stroke="#000" stroke-width="0.12" textLength="7.40" lengthAdjust="spacingAndGlyphs">E</text>
<line x1="213.60" y1="161.80" x2="213.60" y2="260.00" stroke="#000" stroke-width="1.3"/>
<line x1="210.60" y1="162.40" x2="213.60" y2="162.40" stroke="#000" stroke-width="1.1"/>
<text x="210.60" y="164.31" font-size="5.3" text-anchor="end" font-weight="bold" fill="#000" stroke="#000" stroke-width="0.12">16384</text>
<line x1="210.60" y1="173.16" x2="213.60" y2="173.16" stroke="#000" stroke-width="1.1"/>
<text x="210.60" y="175.07" font-size="5.3" text-anchor="end" font-weight="bold" fill="#000" stroke="#000" stroke-width="0.12">8192</text>
<line x1="210.60" y1="183.92" x2="213.60" y2="183.92" stroke="#000" stroke-width="1.1"/>
<text x="210.60" y="185.83" font-size="5.3" text-anchor="end" font-weight="bold" fill="#000" stroke="#000" stroke-width="0.12">4096</text>
<line x1="210.60" y1="194.68" x2="213.60" y2="194.68" stroke="#000" stroke-width="1.1"/>
<text x="210.60" y="196.59" font-size="5.3" text-anchor="end" font-weight="bold" fill="#000" stroke="#000" stroke-width="0.12">2048</text>
<line x1="210.60" y1="205.44" x2="213.60" y2="205.44" stroke="#000" stroke-width="1.1"/>
<text x="210.60" y="207.35" font-size="5.3" text-anchor="end" font-weight="bold" fill="#000" stroke="#000" stroke-width="0.12">1024</text>
<line x1="210.60" y1="216.20" x2="213.60" y2="216.20" stroke="#000" stroke-width="1.1"/>
<text x="210.60" y="218.11" font-size="5.3" text-anchor="end" font-weight="bold" fill="#000" stroke="#000" stroke-width="0.12">512</text>
<line x1="210.60" y1="226.96" x2="213.60" y2="226.96" stroke="#000" stroke-width="1.1"/>
<text x="210.60" y="228.87" font-size="5.3" text-anchor="end" font-weight="bold" fill="#000" stroke="#000" stroke-width="0.12">256</text>
<line x1="210.60" y1="237.72" x2="213.60" y2="237.72" stroke="#000" stroke-width="1.1"/>
<text x="210.60" y="239.63" font-size="5.3" text-anchor="end" font-weight="bold" fill="#000" stroke="#000" stroke-width="0.12">128</text>
<line x1="210.60" y1="248.48" x2="213.60" y2="248.48" stroke="#000" stroke-width="1.1"/>
<text x="210.60" y="250.39" font-size="5.3" text-anchor="end" font-weight="bold" fill="#000" stroke="#000" stroke-width="0.12">64</text>
<line x1="210.60" y1="259.24" x2="213.60" y2="259.24" stroke="#000" stroke-width="1.1"/>
<text x="210.60" y="261.15" font-size="5.3" text-anchor="end" font-weight="bold" fill="#000" stroke="#000" stroke-width="0.12">32</text>
<line x1="213.00" y1="259.40" x2="359.00" y2="259.40" stroke="#000" stroke-width="1.3"/>
<line x1="220.00" y1="259.40" x2="220.00" y2="261.80" stroke="#000" stroke-width="1.0"/>
<line x1="233.00" y1="259.40" x2="233.00" y2="261.80" stroke="#000" stroke-width="1.0"/>
<line x1="246.20" y1="259.40" x2="246.20" y2="261.80" stroke="#000" stroke-width="1.0"/>
<line x1="259.60" y1="259.40" x2="259.60" y2="261.80" stroke="#000" stroke-width="1.0"/>
<line x1="273.00" y1="259.40" x2="273.00" y2="261.80" stroke="#000" stroke-width="1.0"/>
<line x1="285.80" y1="259.40" x2="285.80" y2="261.80" stroke="#000" stroke-width="1.0"/>
<line x1="298.80" y1="259.40" x2="298.80" y2="261.80" stroke="#000" stroke-width="1.0"/>
<line x1="312.00" y1="259.40" x2="312.00" y2="261.80" stroke="#000" stroke-width="1.0"/>
<line x1="325.00" y1="259.40" x2="325.00" y2="261.80" stroke="#000" stroke-width="1.0"/>
<line x1="338.00" y1="259.40" x2="338.00" y2="261.80" stroke="#000" stroke-width="1.0"/>
<line x1="351.40" y1="259.40" x2="351.40" y2="261.80" stroke="#000" stroke-width="1.0"/>
<text transform="translate(192.02 210.50) rotate(-90)" font-size="5.6" text-anchor="middle" font-weight="bold" stroke="#000" stroke-width="0.12" textLength="10.00" lengthAdjust="spacingAndGlyphs">HAI</text>
<line x1="217.50" y1="216.60" x2="217.50" y2="220.00" stroke="#000" stroke-width="0.7"/>
<line x1="216.40" y1="216.60" x2="218.60" y2="216.60" stroke="#000" stroke-width="0.7"/>
<rect x="215.85" y="220.45" width="3.30" height="38.95" fill="#fff" stroke="#000" stroke-width="0.9"/>
<line x1="230.70" y1="207.40" x2="230.70" y2="210.00" stroke="#000" stroke-width="0.7"/>
<line x1="229.60" y1="207.40" x2="231.80" y2="207.40" stroke="#000" stroke-width="0.7"/>
<rect x="229.25" y="210.45" width="2.90" height="48.95" fill="#fff" stroke="#000" stroke-width="0.9"/>
<line x1="257.20" y1="199.00" x2="257.20" y2="202.60" stroke="#000" stroke-width="0.7"/>
<line x1="256.10" y1="199.00" x2="258.30" y2="199.00" stroke="#000" stroke-width="0.7"/>
<rect x="255.65" y="203.05" width="3.10" height="56.35" fill="#fff" stroke="#000" stroke-width="0.9"/>
<text x="256.40" y="198.83" font-size="4.8" text-anchor="middle" font-weight="bold" fill="#000" stroke="#000" stroke-width="0">**</text>
<line x1="262.00" y1="220.60" x2="262.00" y2="224.00" stroke="#000" stroke-width="0.7"/>
<line x1="260.90" y1="220.60" x2="263.10" y2="220.60" stroke="#000" stroke-width="0.7"/>
<rect x="259.80" y="224.00" width="4.40" height="35.40" fill="#000"/>
<line x1="275.20" y1="227.00" x2="275.20" y2="228.60" stroke="#000" stroke-width="0.7"/>
<line x1="274.10" y1="227.00" x2="276.30" y2="227.00" stroke="#000" stroke-width="0.7"/>
<rect x="272.80" y="228.60" width="4.80" height="30.80" fill="#000"/>
<line x1="295.80" y1="187.40" x2="295.80" y2="193.00" stroke="#000" stroke-width="0.7"/>
<line x1="294.70" y1="187.40" x2="296.90" y2="187.40" stroke="#000" stroke-width="0.7"/>
<rect x="294.25" y="193.45" width="3.10" height="65.95" fill="#fff" stroke="#000" stroke-width="0.9"/>
<line x1="301.00" y1="205.00" x2="301.00" y2="210.00" stroke="#000" stroke-width="0.7"/>
<line x1="299.90" y1="205.00" x2="302.10" y2="205.00" stroke="#000" stroke-width="0.7"/>
<rect x="298.80" y="210.00" width="4.40" height="49.40" fill="#000"/>
<line x1="314.20" y1="223.00" x2="314.20" y2="224.00" stroke="#000" stroke-width="0.7"/>
<line x1="313.10" y1="223.00" x2="315.30" y2="223.00" stroke="#000" stroke-width="0.7"/>
<rect x="311.80" y="224.00" width="4.80" height="35.40" fill="#000"/>
<line x1="335.30" y1="185.00" x2="335.30" y2="190.60" stroke="#000" stroke-width="0.7"/>
<line x1="334.20" y1="185.00" x2="336.40" y2="185.00" stroke="#000" stroke-width="0.7"/>
<rect x="333.85" y="191.05" width="2.90" height="68.35" fill="#fff" stroke="#000" stroke-width="0.9"/>
<line x1="340.20" y1="194.00" x2="340.20" y2="199.00" stroke="#000" stroke-width="0.7"/>
<line x1="339.10" y1="194.00" x2="341.30" y2="194.00" stroke="#000" stroke-width="0.7"/>
<rect x="337.80" y="199.00" width="4.80" height="60.40" fill="#000"/>
<line x1="353.50" y1="217.00" x2="353.50" y2="219.00" stroke="#000" stroke-width="0.7"/>
<line x1="352.40" y1="217.00" x2="354.60" y2="217.00" stroke="#000" stroke-width="0.7"/>
<rect x="351.20" y="219.00" width="4.60" height="40.40" fill="#000"/>
<rect x="331.35" y="157.65" width="6.30" height="4.40" fill="#fff" stroke="#000" stroke-width="0.7"/>
<rect x="331.00" y="164.00" width="7.00" height="4.80" fill="#000"/>
<text x="341.00" y="161.85" font-size="5.7" text-anchor="start" font-weight="bold" fill="#000" stroke="#000" stroke-width="0.12" textLength="16.40" lengthAdjust="spacingAndGlyphs"><tspan font-weight="normal" stroke-width="0" font-size="6.4">α</tspan>-PR8</text>
<text x="341.00" y="168.25" font-size="5.7" text-anchor="start" font-weight="bold" fill="#000" stroke="#000" stroke-width="0.12" textLength="16.40" lengthAdjust="spacingAndGlyphs"><tspan font-weight="normal" stroke-width="0" font-size="6.4">α</tspan>-FM1</text>
<text x="199.00" y="267.29" font-size="5.8" text-anchor="start" font-weight="bold" fill="#000" stroke="#000" stroke-width="0.12" textLength="5.00" lengthAdjust="spacingAndGlyphs">1°</text>
<text x="199.00" y="274.29" font-size="5.8" text-anchor="start" font-weight="bold" fill="#000" stroke="#000" stroke-width="0.12" textLength="5.00" lengthAdjust="spacingAndGlyphs">2°</text>
<text x="213.00" y="267.29" font-size="5.8" text-anchor="start" font-weight="bold" fill="#000" stroke="#000" stroke-width="0.12" textLength="10.00" lengthAdjust="spacingAndGlyphs">PR8</text>
<text x="226.40" y="267.29" font-size="5.8" text-anchor="start" font-weight="bold" fill="#000" stroke="#000" stroke-width="0.12" textLength="10.60" lengthAdjust="spacingAndGlyphs">PR8</text>
<text x="254.00" y="267.29" font-size="5.8" text-anchor="start" font-weight="bold" fill="#000" stroke="#000" stroke-width="0.12" textLength="10.40" lengthAdjust="spacingAndGlyphs">PR8</text>
<text x="254.00" y="274.29" font-size="5.8" text-anchor="start" font-weight="bold" fill="#000" stroke="#000" stroke-width="0.12" textLength="10.40" lengthAdjust="spacingAndGlyphs">FM1</text>
<text x="270.40" y="267.29" font-size="5.8" text-anchor="start" font-weight="bold" fill="#000" stroke="#000" stroke-width="0.12" textLength="11.20" lengthAdjust="spacingAndGlyphs">PBS</text>
<text x="270.40" y="274.29" font-size="5.8" text-anchor="start" font-weight="bold" fill="#000" stroke="#000" stroke-width="0.12" textLength="11.20" lengthAdjust="spacingAndGlyphs">FM1</text>
<text x="292.40" y="267.29" font-size="5.8" text-anchor="start" font-weight="bold" fill="#000" stroke="#000" stroke-width="0.12" textLength="10.60" lengthAdjust="spacingAndGlyphs">PR8</text>
<text x="292.40" y="274.29" font-size="5.8" text-anchor="start" font-weight="bold" fill="#000" stroke="#000" stroke-width="0.12" textLength="10.60" lengthAdjust="spacingAndGlyphs">FM1</text>
<text x="311.00" y="267.29" font-size="5.8" text-anchor="start" font-weight="bold" fill="#000" stroke="#000" stroke-width="0.12" textLength="11.40" lengthAdjust="spacingAndGlyphs">PBS</text>
<text x="311.00" y="274.29" font-size="5.8" text-anchor="start" font-weight="bold" fill="#000" stroke="#000" stroke-width="0.12" textLength="11.40" lengthAdjust="spacingAndGlyphs">FM1</text>
<text x="333.60" y="267.29" font-size="5.8" text-anchor="start" font-weight="bold" fill="#000" stroke="#000" stroke-width="0.12" textLength="10.40" lengthAdjust="spacingAndGlyphs">PR8</text>
<text x="333.60" y="274.29" font-size="5.8" text-anchor="start" font-weight="bold" fill="#000" stroke="#000" stroke-width="0.12" textLength="10.40" lengthAdjust="spacingAndGlyphs">FM1</text>
<text x="351.60" y="267.29" font-size="5.8" text-anchor="start" font-weight="bold" fill="#000" stroke="#000" stroke-width="0.12" textLength="10.80" lengthAdjust="spacingAndGlyphs">PBS</text>
<text x="351.60" y="274.29" font-size="5.8" text-anchor="start" font-weight="bold" fill="#000" stroke="#000" stroke-width="0.12" textLength="10.80" lengthAdjust="spacingAndGlyphs">FM1</text>
<text x="211.00" y="284.09" font-size="5.8" text-anchor="start" font-weight="bold" fill="#000" stroke="#000" stroke-width="0.12" textLength="36.00" lengthAdjust="spacingAndGlyphs">d30-1° d90-1°</text>
<text x="261.00" y="284.09" font-size="5.8" text-anchor="start" font-weight="bold" fill="#000" stroke="#000" stroke-width="0.12" textLength="13.00" lengthAdjust="spacingAndGlyphs">d7-2°</text>
<text x="298.00" y="284.09" font-size="5.8" text-anchor="start" font-weight="bold" fill="#000" stroke="#000" stroke-width="0.12" textLength="16.00" lengthAdjust="spacingAndGlyphs">d14-2°</text>
<text x="335.60" y="284.09" font-size="5.8" text-anchor="start" font-weight="bold" fill="#000" stroke="#000" stroke-width="0.12" textLength="16.40" lengthAdjust="spacingAndGlyphs">d28-2°</text>
<text x="375.40" y="9.20" font-size="10.0" text-anchor="start" font-weight="bold" fill="#000" stroke="#000" stroke-width="0.12" textLength="8.20" lengthAdjust="spacingAndGlyphs">C</text>
<line x1="397.00" y1="29.00" x2="397.00" y2="112.00" stroke="#000" stroke-width="1.3"/>
<line x1="394.40" y1="29.60" x2="397.00" y2="29.60" stroke="#000" stroke-width="1.1"/>
<text x="394.20" y="31.54" font-size="5.4" text-anchor="end" font-weight="bold" fill="#000" stroke="#000" stroke-width="0.12">8</text>
<line x1="394.40" y1="39.85" x2="397.00" y2="39.85" stroke="#000" stroke-width="1.1"/>
<text x="394.20" y="41.79" font-size="5.4" text-anchor="end" font-weight="bold" fill="#000" stroke="#000" stroke-width="0.12">7</text>
<line x1="394.40" y1="50.10" x2="397.00" y2="50.10" stroke="#000" stroke-width="1.1"/>
<text x="394.20" y="52.04" font-size="5.4" text-anchor="end" font-weight="bold" fill="#000" stroke="#000" stroke-width="0.12">6</text>
<line x1="394.40" y1="60.35" x2="397.00" y2="60.35" stroke="#000" stroke-width="1.1"/>
<text x="394.20" y="62.29" font-size="5.4" text-anchor="end" font-weight="bold" fill="#000" stroke="#000" stroke-width="0.12">5</text>
<line x1="394.40" y1="70.60" x2="397.00" y2="70.60" stroke="#000" stroke-width="1.1"/>
<text x="394.20" y="72.54" font-size="5.4" text-anchor="end" font-weight="bold" fill="#000" stroke="#000" stroke-width="0.12">4</text>
<line x1="394.40" y1="80.85" x2="397.00" y2="80.85" stroke="#000" stroke-width="1.1"/>
<text x="394.20" y="82.79" font-size="5.4" text-anchor="end" font-weight="bold" fill="#000" stroke="#000" stroke-width="0.12">3</text>
<line x1="394.40" y1="91.10" x2="397.00" y2="91.10" stroke="#000" stroke-width="1.1"/>
<text x="394.20" y="93.04" font-size="5.4" text-anchor="end" font-weight="bold" fill="#000" stroke="#000" stroke-width="0.12">2</text>
<line x1="394.40" y1="101.35" x2="397.00" y2="101.35" stroke="#000" stroke-width="1.1"/>
<text x="394.20" y="103.29" font-size="5.4" text-anchor="end" font-weight="bold" fill="#000" stroke="#000" stroke-width="0.12">1</text>
<line x1="394.40" y1="111.60" x2="397.00" y2="111.60" stroke="#000" stroke-width="1.1"/>
<text x="394.20" y="113.54" font-size="5.4" text-anchor="end" font-weight="bold" fill="#000" stroke="#000" stroke-width="0.12">0</text>
<line x1="396.40" y1="111.40" x2="520.00" y2="111.40" stroke="#000" stroke-width="1.05"/>
<line x1="417.00" y1="111.40" x2="417.00" y2="113.40" stroke="#000" stroke-width="0.9"/>
<line x1="457.60" y1="111.40" x2="457.60" y2="113.40" stroke="#000" stroke-width="0.9"/>
<line x1="498.60" y1="111.40" x2="498.60" y2="113.40" stroke="#000" stroke-width="0.9"/>
<text transform="translate(383.67 69.20) rotate(-90)" font-size="6.3" text-anchor="middle" font-weight="bold" stroke="#000" stroke-width="0.05" textLength="46.00" lengthAdjust="spacingAndGlyphs">PFU/ml (log <tspan font-size="4" dy="1.2">10</tspan><tspan dy="-1.2">)</tspan></text>
<line x1="403.00" y1="32.65" x2="431.20" y2="32.65" stroke="#000" stroke-width="1.0"/>
<polygon points="407.60,30.40 406.00,33.28 409.20,33.28" fill="#000"/>
<polygon points="412.30,31.40 410.70,34.28 413.90,34.28" fill="#000"/>
<polygon points="416.90,31.60 415.30,34.48 418.50,34.48" fill="#000"/>
<polygon points="421.90,31.60 420.30,34.48 423.50,34.48" fill="#000"/>
<polygon points="426.60,30.40 425.00,33.28 428.20,33.28" fill="#000"/>
<line x1="427.00" y1="22.90" x2="504.00" y2="22.90" stroke="#5c5c5c" stroke-width="1.15"/>
<text x="467.00" y="21.83" font-size="4.8" text-anchor="middle" font-weight="bold" fill="#000" stroke="#000" stroke-width="0">***</text>
<line x1="453.00" y1="43.00" x2="500.40" y2="43.00" stroke="#5c5c5c" stroke-width="1.15"/>
<text x="474.00" y="42.63" font-size="4.8" text-anchor="middle" font-weight="bold" fill="#000" stroke="#000" stroke-width="0">***</text>
<line x1="485.00" y1="70.80" x2="513.00" y2="70.80" stroke="#000" stroke-width="1.05"/>
<circle cx="494.00" cy="70.20" r="1.5" fill="#000"/>
<circle cx="499.00" cy="72.40" r="1.5" fill="#000"/>
<circle cx="503.60" cy="70.00" r="1.5" fill="#000"/>
<text x="457.60" y="109.22" font-size="5.6" text-anchor="middle" font-weight="normal" fill="#000" stroke="#000" stroke-width="0.15">(9)</text>
<text x="498.60" y="109.22" font-size="5.6" text-anchor="middle" font-weight="normal" fill="#000" stroke="#000" stroke-width="0.15">(1)</text>
<text x="385.00" y="121.09" font-size="5.8" text-anchor="start" font-weight="bold" fill="#000" stroke="#000" stroke-width="0.12" textLength="5.00" lengthAdjust="spacingAndGlyphs">1°</text>
<text x="385.00" y="128.49" font-size="5.8" text-anchor="start" font-weight="bold" fill="#000" stroke="#000" stroke-width="0.12" textLength="5.00" lengthAdjust="spacingAndGlyphs">2°</text>
<text x="412.00" y="121.09" font-size="5.8" text-anchor="start" font-weight="bold" fill="#000" stroke="#000" stroke-width="0.12" textLength="12.00" lengthAdjust="spacingAndGlyphs">PBS</text>
<text x="412.00" y="128.49" font-size="5.8" text-anchor="start" font-weight="bold" fill="#000" stroke="#000" stroke-width="0.12" textLength="12.00" lengthAdjust="spacingAndGlyphs">PBS</text>
<text x="452.00" y="121.09" font-size="5.8" text-anchor="start" font-weight="bold" fill="#000" stroke="#000" stroke-width="0.12" textLength="11.60" lengthAdjust="spacingAndGlyphs">PBS</text>
<text x="452.00" y="128.49" font-size="5.8" text-anchor="start" font-weight="bold" fill="#000" stroke="#000" stroke-width="0.12" textLength="11.60" lengthAdjust="spacingAndGlyphs">FM1</text>
<text x="493.00" y="121.09" font-size="5.8" text-anchor="start" font-weight="bold" fill="#000" stroke="#000" stroke-width="0.12" textLength="11.00" lengthAdjust="spacingAndGlyphs">PR8</text>
<text x="493.00" y="128.49" font-size="5.8" text-anchor="start" font-weight="bold" fill="#000" stroke="#000" stroke-width="0.12" textLength="11.00" lengthAdjust="spacingAndGlyphs">FM1</text>
<text x="375.60" y="159.20" font-size="10.0" text-anchor="start" font-weight="bold" fill="#000" stroke="#000" stroke-width="0.12" textLength="6.60" lengthAdjust="spacingAndGlyphs">F</text>
<line x1="396.00" y1="176.00" x2="396.00" y2="259.60" stroke="#000" stroke-width="1.3"/>
<line x1="393.40" y1="176.60" x2="396.00" y2="176.60" stroke="#000" stroke-width="1.1"/>
<text x="392.80" y="178.54" font-size="5.4" text-anchor="end" font-weight="bold" fill="#000" stroke="#000" stroke-width="0.12">8</text>
<line x1="393.40" y1="186.88" x2="396.00" y2="186.88" stroke="#000" stroke-width="1.1"/>
<text x="392.80" y="188.82" font-size="5.4" text-anchor="end" font-weight="bold" fill="#000" stroke="#000" stroke-width="0.12">7</text>
<line x1="393.40" y1="197.16" x2="396.00" y2="197.16" stroke="#000" stroke-width="1.1"/>
<text x="392.80" y="199.10" font-size="5.4" text-anchor="end" font-weight="bold" fill="#000" stroke="#000" stroke-width="0.12">6</text>
<line x1="393.40" y1="207.44" x2="396.00" y2="207.44" stroke="#000" stroke-width="1.1"/>
<text x="392.80" y="209.38" font-size="5.4" text-anchor="end" font-weight="bold" fill="#000" stroke="#000" stroke-width="0.12">5</text>
<line x1="393.40" y1="217.72" x2="396.00" y2="217.72" stroke="#000" stroke-width="1.1"/>
<text x="392.80" y="219.66" font-size="5.4" text-anchor="end" font-weight="bold" fill="#000" stroke="#000" stroke-width="0.12">4</text>
<line x1="393.40" y1="228.00" x2="396.00" y2="228.00" stroke="#000" stroke-width="1.1"/>
<text x="392.80" y="229.94" font-size="5.4" text-anchor="end" font-weight="bold" fill="#000" stroke="#000" stroke-width="0.12">3</text>
<line x1="393.40" y1="238.28" x2="396.00" y2="238.28" stroke="#000" stroke-width="1.1"/>
<text x="392.80" y="240.22" font-size="5.4" text-anchor="end" font-weight="bold" fill="#000" stroke="#000" stroke-width="0.12">2</text>
<line x1="393.40" y1="248.56" x2="396.00" y2="248.56" stroke="#000" stroke-width="1.1"/>
<text x="392.80" y="250.50" font-size="5.4" text-anchor="end" font-weight="bold" fill="#000" stroke="#000" stroke-width="0.12">1</text>
<line x1="393.40" y1="258.84" x2="396.00" y2="258.84" stroke="#000" stroke-width="1.1"/>
<text x="392.80" y="260.78" font-size="5.4" text-anchor="end" font-weight="bold" fill="#000" stroke="#000" stroke-width="0.12">0</text>
<line x1="395.40" y1="259.00" x2="520.00" y2="259.00" stroke="#000" stroke-width="1.3"/>
<line x1="416.00" y1="259.00" x2="416.00" y2="261.00" stroke="#000" stroke-width="0.9"/>
<line x1="457.00" y1="259.00" x2="457.00" y2="261.00" stroke="#000" stroke-width="0.9"/>
<line x1="498.60" y1="259.00" x2="498.60" y2="261.00" stroke="#000" stroke-width="0.9"/>
<text transform="translate(383.27 217.20) rotate(-90)" font-size="6.3" text-anchor="middle" font-weight="bold" stroke="#000" stroke-width="0.05" textLength="46.00" lengthAdjust="spacingAndGlyphs">PFU/ml (log <tspan font-size="4" dy="1.2">10</tspan><tspan dy="-1.2">)</tspan></text>
<line x1="401.90" y1="181.40" x2="429.80" y2="181.40" stroke="#000" stroke-width="1.0"/>
<polygon points="406.40,178.70 404.70,181.76 408.10,181.76" fill="#000"/>
<polygon points="411.40,179.90 409.70,182.96 413.10,182.96" fill="#000"/>
<polygon points="416.00,181.90 414.30,184.96 417.70,184.96" fill="#000"/>
<polygon points="420.60,180.90 418.90,183.96 422.30,183.96" fill="#000"/>
<polygon points="425.40,178.70 423.70,181.76 427.10,181.76" fill="#000"/>
<line x1="416.00" y1="165.40" x2="496.60" y2="165.40" stroke="#5c5c5c" stroke-width="1.15"/>
<text x="455.40" y="165.83" font-size="4.8" text-anchor="middle" font-weight="bold" fill="#000" stroke="#000" stroke-width="0">**</text>
<line x1="415.00" y1="171.30" x2="456.20" y2="171.30" stroke="#5c5c5c" stroke-width="1.15"/>
<text x="435.60" y="172.63" font-size="4.8" text-anchor="middle" font-weight="bold" fill="#000" stroke="#000" stroke-width="0">***</text>
<line x1="457.40" y1="175.20" x2="498.40" y2="175.20" stroke="#5c5c5c" stroke-width="1.15"/>
<text x="478.40" y="175.83" font-size="4.8" text-anchor="middle" font-weight="bold" fill="#000" stroke="#000" stroke-width="0">**</text>
<rect x="450.90" y="219.50" width="3.00" height="3.00" fill="#000"/>
<rect x="455.70" y="220.50" width="3.00" height="3.00" fill="#000"/>
<line x1="443.40" y1="229.90" x2="471.00" y2="229.90" stroke="#000" stroke-width="1.35"/>
<rect x="446.50" y="230.90" width="3.00" height="3.00" fill="#000"/>
<rect x="451.10" y="232.10" width="3.00" height="3.00" fill="#000"/>
<rect x="455.70" y="232.10" width="3.00" height="3.00" fill="#000"/>
<rect x="460.50" y="232.10" width="3.00" height="3.00" fill="#000"/>
<rect x="465.10" y="232.10" width="3.00" height="3.00" fill="#000"/>
<circle cx="498.20" cy="181.40" r="1.5" fill="#000"/>
<circle cx="498.20" cy="200.00" r="1.5" fill="#000"/>
<line x1="484.60" y1="205.40" x2="512.40" y2="205.40" stroke="#000" stroke-width="1.1"/>
<circle cx="493.60" cy="210.40" r="1.5" fill="#000"/>
<circle cx="498.20" cy="211.60" r="1.5" fill="#000"/>
<circle cx="503.00" cy="209.00" r="1.5" fill="#000"/>
<circle cx="498.20" cy="220.60" r="1.5" fill="#000"/>
<text x="498.50" y="257.82" font-size="5.6" text-anchor="middle" font-weight="normal" fill="#000" stroke="#000" stroke-width="0.15">(3)</text>
<text x="383.00" y="267.69" font-size="5.8" text-anchor="start" font-weight="bold" fill="#000" stroke="#000" stroke-width="0.12" textLength="5.00" lengthAdjust="spacingAndGlyphs">1°</text>
<text x="383.00" y="275.69" font-size="5.8" text-anchor="start" font-weight="bold" fill="#000" stroke="#000" stroke-width="0.12" textLength="5.00" lengthAdjust="spacingAndGlyphs">2°</text>
<text x="410.40" y="267.69" font-size="5.8" text-anchor="start" font-weight="bold" fill="#000" stroke="#000" stroke-width="0.12" textLength="12.20" lengthAdjust="spacingAndGlyphs">PBS</text>
<text x="410.40" y="275.69" font-size="5.8" text-anchor="start" font-weight="bold" fill="#000" stroke="#000" stroke-width="0.12" textLength="12.20" lengthAdjust="spacingAndGlyphs">PBS</text>
<text x="454.00" y="267.69" font-size="5.8" text-anchor="start" font-weight="bold" fill="#000" stroke="#000" stroke-width="0.12" textLength="12.00" lengthAdjust="spacingAndGlyphs">PBS</text>
<text x="454.00" y="275.69" font-size="5.8" text-anchor="start" font-weight="bold" fill="#000" stroke="#000" stroke-width="0.12" textLength="12.00" lengthAdjust="spacingAndGlyphs">FM1</text>
<text x="494.00" y="267.69" font-size="5.8" text-anchor="start" font-weight="bold" fill="#000" stroke="#000" stroke-width="0.12" textLength="12.00" lengthAdjust="spacingAndGlyphs">PR8</text>
<text x="494.00" y="275.69" font-size="5.8" text-anchor="start" font-weight="bold" fill="#000" stroke="#000" stroke-width="0.12" textLength="12.00" lengthAdjust="spacingAndGlyphs">FM1</text>
</g>
</svg>
</body>
</html>
